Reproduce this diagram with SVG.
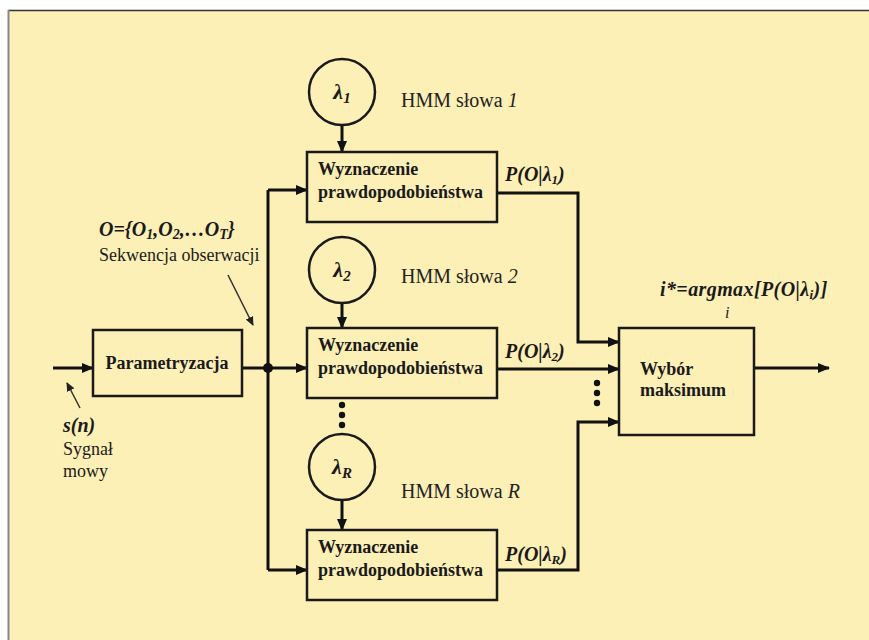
<svg xmlns="http://www.w3.org/2000/svg" width="869" height="640" viewBox="0 0 869 640">
<defs>
<style>
.bg{fill:#FDF0B7}
.box{fill:none;stroke:#1a1a1a;stroke-width:2.5}
.wire{fill:none;stroke:#111;stroke-width:3}
.thin{fill:none;stroke:#333;stroke-width:1.5}
text{font-family:'Liberation Serif','Times New Roman','DejaVu Serif',serif}
.t{fill:#1a1a1a}
.b{font-weight:bold}
.i{font-style:italic}
.bt{font-weight:bold;font-size:18px;fill:#1a1a1a}
.hmm{font-size:20px;fill:#222}
.lab{font-weight:bold;font-style:italic;font-size:20px;fill:#1a1a1a}
.dot{fill:#111}
</style>
<marker id="ah" markerWidth="12" markerHeight="10" refX="11" refY="5" orient="auto" markerUnits="userSpaceOnUse">
<path d="M0,0 L12,5 L0,10 Z" fill="#111"/>
</marker>
<marker id="ahs" markerWidth="9" markerHeight="8" refX="8" refY="4" orient="auto" markerUnits="userSpaceOnUse">
<path d="M0,0 L9,4 L0,8 Z" fill="#222"/>
</marker>
</defs>
<rect x="0" y="0" width="869" height="640" fill="#ffffff"/>
<rect class="bg" x="8" y="10" width="861" height="630"/>
<line x1="8" y1="10.5" x2="869" y2="10.5" stroke="#333" stroke-width="1.5"/>
<line x1="8.5" y1="10" x2="8.5" y2="640" stroke="#888" stroke-width="2"/>

<g id="connectors">
<line class="wire" x1="53" y1="368" x2="93" y2="368" marker-end="url(#ah)"/>
<line class="wire" x1="242" y1="368" x2="307" y2="368" marker-end="url(#ah)"/>
<line class="wire" x1="268" y1="190" x2="268" y2="570"/>
<polyline class="wire" points="268,190 307,190" marker-end="url(#ah)"/>
<polyline class="wire" points="268,570 307,570" marker-end="url(#ah)"/>
<circle class="dot" cx="268" cy="368" r="5"/>
<line class="wire" x1="342" y1="125" x2="342" y2="152" marker-end="url(#ah)"/>
<line class="wire" x1="342" y1="302" x2="342" y2="328" marker-end="url(#ah)"/>
<line class="wire" x1="342" y1="500" x2="342" y2="530" marker-end="url(#ah)"/>
<polyline class="wire" points="497,193 578,193 578,342 619,342" marker-end="url(#ah)"/>
<line class="wire" x1="497" y1="369" x2="619" y2="369" marker-end="url(#ah)"/>
<polyline class="wire" points="497,570 578,570 578,422 619,422" marker-end="url(#ah)"/>
<line class="wire" x1="754" y1="368" x2="829" y2="368" marker-end="url(#ah)"/>
<line class="thin" x1="228" y1="275" x2="253" y2="325" marker-end="url(#ahs)"/>
<line class="thin" x1="80" y1="408" x2="67" y2="383" marker-end="url(#ahs)"/>
<circle class="dot" cx="342" cy="405" r="3.2"/>
<circle class="dot" cx="342" cy="415" r="3.2"/>
<circle class="dot" cx="342" cy="425" r="3.2"/>
<circle class="dot" cx="597" cy="383" r="3.2"/>
<circle class="dot" cx="597" cy="393" r="3.2"/>
<circle class="dot" cx="597" cy="403" r="3.2"/>
</g>

<g id="parametryzacja">
<rect class="box" x="93" y="330" width="149" height="66"/>
<text class="bt" x="167" y="369" text-anchor="middle" font-size="17.5">Parametryzacja</text>
</g>

<g id="lambda1">
<circle class="box" cx="342" cy="92" r="33"/>
<text class="t b i" x="342" y="99" font-size="22" text-anchor="middle">λ<tspan font-size="15" dy="4">1</tspan></text>
</g>
<g id="lambda2">
<circle class="box" cx="342" cy="270" r="33"/>
<text class="t b i" x="342" y="277" font-size="22" text-anchor="middle">λ<tspan font-size="15" dy="4">2</tspan></text>
</g>
<g id="lambdaR">
<circle class="box" cx="342" cy="467" r="33"/>
<text class="t b i" x="342" y="474" font-size="22" text-anchor="middle">λ<tspan font-size="15" dy="4">R</tspan></text>
</g>

<g id="box1">
<rect class="box" x="307" y="152" width="190" height="70"/>
<text class="bt" x="318" y="175">Wyznaczenie</text>
<text class="bt" x="318" y="198">prawdopodobieństwa</text>
</g>
<g id="box2">
<rect class="box" x="307" y="328" width="190" height="70"/>
<text class="bt" x="318" y="351">Wyznaczenie</text>
<text class="bt" x="318" y="374">prawdopodobieństwa</text>
</g>
<g id="box3">
<rect class="box" x="307" y="530" width="190" height="70"/>
<text class="bt" x="318" y="553">Wyznaczenie</text>
<text class="bt" x="318" y="576">prawdopodobieństwa</text>
</g>

<g id="wybor">
<rect class="box" x="619" y="328" width="135" height="107"/>
<text class="bt" x="640" y="375">Wybór</text>
<text class="bt" x="640" y="396">maksimum</text>
</g>

<g id="labels">
<text class="hmm" x="401" y="107">HMM słowa <tspan font-style="italic">1</tspan></text>
<text class="hmm" x="401" y="283">HMM słowa <tspan font-style="italic">2</tspan></text>
<text class="hmm" x="401" y="498">HMM słowa <tspan font-style="italic">R</tspan></text>
<text class="lab" x="505" y="181">P(O|λ<tspan font-size="13" dy="3">1</tspan><tspan dy="-3">)</tspan></text>
<text class="lab" x="505" y="358">P(O|λ<tspan font-size="13" dy="3">2</tspan><tspan dy="-3">)</tspan></text>
<text class="lab" x="505" y="561">P(O|λ<tspan font-size="13" dy="3">R</tspan><tspan dy="-3">)</tspan></text>
<text class="lab" x="660" y="296" letter-spacing="0.4">i*=argmax[P(O|λ<tspan font-size="13" dy="3">i</tspan><tspan dy="-3">)]</tspan></text>
<text class="t i" x="725" y="318" font-size="16">i</text>
<text class="lab" x="99" y="236">O={O<tspan font-size="14" dy="3">1</tspan><tspan dy="-3">,O</tspan><tspan font-size="14" dy="3">2</tspan><tspan dy="-3">,…O</tspan><tspan font-size="14" dy="3">T</tspan><tspan dy="-3">}</tspan></text>
<text class="t" x="99" y="261" font-size="18">Sekwencja obserwacji</text>
<text class="lab" x="63" y="432">s(n)</text>
<text class="t" x="63" y="455" font-size="18">Sygnał</text>
<text class="t" x="63" y="477" font-size="18">mowy</text>
</g>
</svg>
